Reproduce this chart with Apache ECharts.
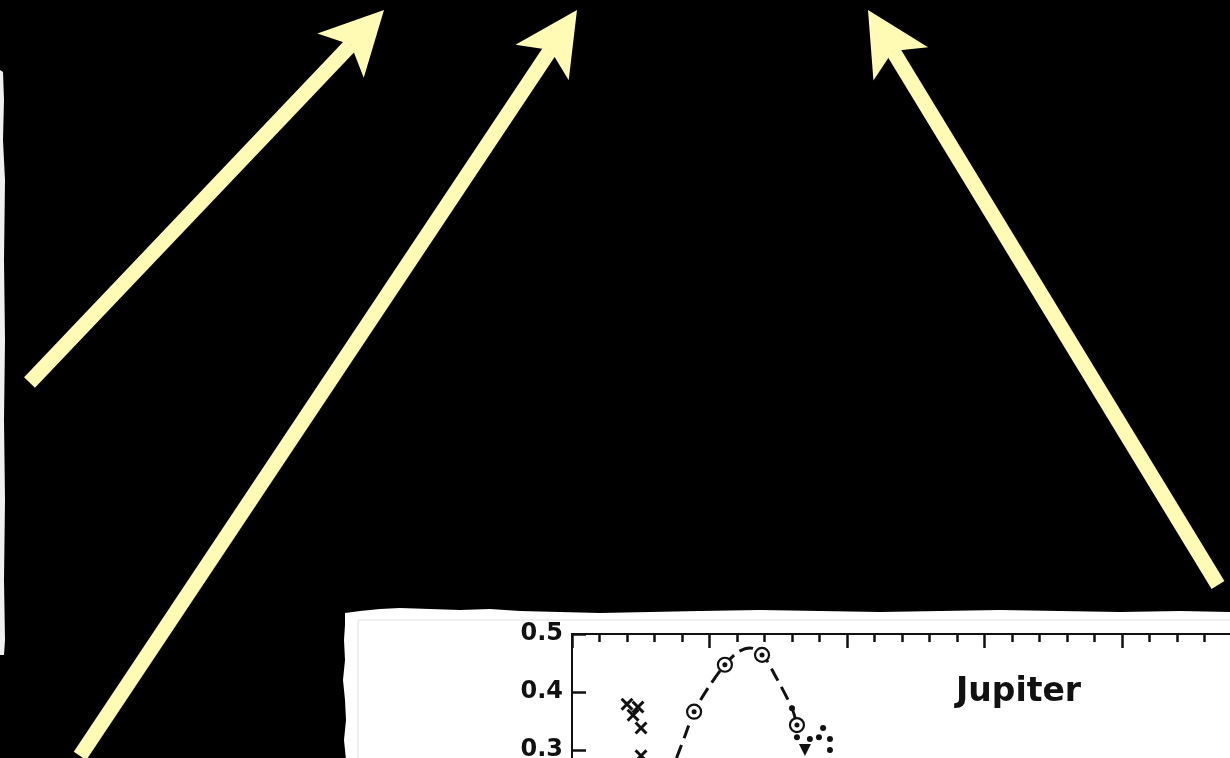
<!DOCTYPE html>
<html>
<head>
<meta charset="utf-8">
<script src="https://cdn.jsdelivr.net/npm/echarts@6/dist/echarts.min.js"></script>
<style>
  html, body { margin: 0; padding: 0; background: #000; overflow: hidden; }
  #chart { width: 1230px; height: 758px; }
</style>
</head>
<body>
<div id="chart"></div>
<script>
// Jupiter: geometric albedo against wavelength (µm)
const yTicks = [0, 0.1, 0.2, 0.3, 0.4, 0.5];
// filter photometry (open circles with centre dot)
const filterAlbedo = [[0.444, 0.366], [0.556, 0.447], [0.691, 0.464], [0.818, 0.343]];
// ultraviolet points (crosses)
const uvAlbedo = [[0.200, 0.379], [0.240, 0.374], [0.222, 0.360], [0.251, 0.338], [0.251, 0.290]];
// near-infrared points (small dots)
const irAlbedo = [[0.800, 0.372], [0.818, 0.322], [0.865, 0.319], [0.898, 0.322], [0.913, 0.338], [0.938, 0.319], [0.938, 0.300]];
// near-infrared point (triangle)
const irLow = [[0.847, 0.300]];
// dashed smooth curve through the filter points
const fitCurve = [[0.380, 0.286], [0.412, 0.326], [0.444, 0.366], [0.495, 0.407], [0.556, 0.447], [0.604, 0.469], [0.647, 0.476], [0.691, 0.466], [0.738, 0.429], [0.800, 0.372], [0.818, 0.343]];

const INK = '#111111';
const ARROW = '#fffab4';

// pale arrows over the slide: shaft line plus notched head
function arrow(tail, tip) {
  const dx = tip[0] - tail[0], dy = tip[1] - tail[1];
  const len = Math.hypot(dx, dy);
  const ux = dx / len, uy = dy / len;
  const vx = -uy, vy = ux;
  const L = 63, H = 32, N = 48, W = 15;
  const notch = [tip[0] - N * ux, tip[1] - N * uy];
  const b1 = [tip[0] - L * ux + H * vx, tip[1] - L * uy + H * vy];
  const b2 = [tip[0] - L * ux - H * vx, tip[1] - L * uy - H * vy];
  return [
    { type: 'line', z: 100, shape: { x1: tail[0], y1: tail[1], x2: notch[0], y2: notch[1] },
      style: { stroke: ARROW, lineWidth: W, lineCap: 'butt' } },
    { type: 'polygon', z: 101, shape: { points: [tip, b1, notch, b2] },
      style: { fill: ARROW } }
  ];
}

const paperEdge = [
  [345, 613], [360, 611], [380, 609], [400, 608], [430, 609], [460, 610], [490, 609],
  [520, 611], [560, 612], [600, 613], [650, 612], [700, 611], [760, 610], [820, 611],
  [880, 612], [940, 611], [1000, 610], [1060, 611], [1120, 612], [1180, 611], [1235, 612],
  [1235, 760], [346, 760], [344, 740], [346, 720], [345, 700], [343, 680], [345, 660],
  [344, 640], [345, 625]
];
const sliverEdge = [
  [0, 70], [3, 72], [4, 100], [3, 140], [5, 180], [4, 260], [5, 340], [4, 420],
  [5, 500], [4, 580], [5, 640], [4, 655], [0, 655]
];

const graphics = [
  { type: 'polygon', z: -10, shape: { points: paperEdge }, style: { fill: '#ffffff' } },
  { type: 'line', z: -9, shape: { x1: 358, y1: 620, x2: 1235, y2: 620 }, style: { stroke: '#e0e0e0', lineWidth: 1 } },
  { type: 'line', z: -9, shape: { x1: 358, y1: 620, x2: 358, y2: 760 }, style: { stroke: '#e0e0e0', lineWidth: 1 } },
  { type: 'polygon', z: -10, shape: { points: sliverEdge }, style: { fill: '#f0f0f0' } }
].concat(
  arrow([29.5, 382.5], [384, 10]),
  arrow([80, 756], [577, 10]),
  arrow([1218, 585], [868, 10])
);

const chart = echarts.init(document.getElementById('chart'), null, { renderer: 'canvas' });

chart.setOption({
  backgroundColor: '#000000',
  animation: false,
  title: {
    text: 'Jupiter',
    left: 956,
    top: 676,
    padding: 0,
    textStyle: { fontFamily: 'DejaVu Sans', fontWeight: 'bold', fontSize: 33, color: INK }
  },
  grid: {
    left: 572,
    top: 634,
    right: -167,
    bottom: -166,
    containLabel: false,
    outerBoundsMode: 'none'
  },
  xAxis: {
    type: 'value',
    position: 'top',
    min: 0,
    max: 3,
    interval: 0.5,
    axisLine: { show: true, onZero: false, lineStyle: { color: INK, width: 2 } },
    axisTick: { show: true, inside: true, length: 14, lineStyle: { color: INK, width: 2.5 } },
    minorTick: { show: true, splitNumber: 5, length: 8, lineStyle: { color: INK, width: 2.5 } },
    axisLabel: { show: false },
    splitLine: { show: false },
    minorSplitLine: { show: false }
  },
  yAxis: {
    type: 'value',
    position: 'left',
    min: yTicks[0],
    max: yTicks[yTicks.length - 1],
    interval: 0.1,
    axisLine: { show: true, onZero: false, lineStyle: { color: INK, width: 2 } },
    axisTick: { show: true, inside: true, length: 14, lineStyle: { color: INK, width: 2.5 } },
    axisLabel: {
      margin: 9,
      fontFamily: 'DejaVu Sans',
      fontWeight: 'bold',
      fontSize: 24,
      color: INK,
      formatter: v => v.toFixed(1)
    },
    splitLine: { show: false }
  },
  graphic: graphics,
  series: [
    {
      name: 'fit',
      type: 'line',
      data: fitCurve,
      smooth: 0.3,
      showSymbol: false,
      symbol: 'none',
      lineStyle: { color: INK, width: 3, type: [14, 7] },
      z: 2
    },
    {
      name: 'filters',
      type: 'scatter',
      data: filterAlbedo,
      symbol: 'circle',
      symbolSize: 14,
      itemStyle: { color: '#ffffff', borderColor: INK, borderWidth: 2.2, opacity: 1 },
      z: 3
    },
    {
      name: 'filters-centre',
      type: 'scatter',
      data: filterAlbedo,
      symbol: 'circle',
      symbolSize: 5,
      itemStyle: { color: INK, opacity: 1 },
      z: 4
    },
    {
      name: 'ultraviolet',
      type: 'scatter',
      data: uvAlbedo,
      symbol: 'path://M0,1.6L1.6,0L5,3.4L8.4,0L10,1.6L6.6,5L10,8.4L8.4,10L5,6.6L1.6,10L0,8.4L3.4,5Z',
      symbolSize: 13,
      itemStyle: { color: INK, opacity: 1 },
      z: 3
    },
    {
      name: 'infrared',
      type: 'scatter',
      data: irAlbedo,
      symbol: 'circle',
      symbolSize: 6,
      itemStyle: { color: INK, opacity: 1 },
      z: 3
    },
    {
      name: 'infrared-low',
      type: 'scatter',
      data: irLow,
      symbol: 'triangle',
      symbolRotate: 180,
      symbolSize: 12,
      itemStyle: { color: INK, opacity: 1 },
      z: 3
    }
  ]
});
</script>
</body>
</html>
